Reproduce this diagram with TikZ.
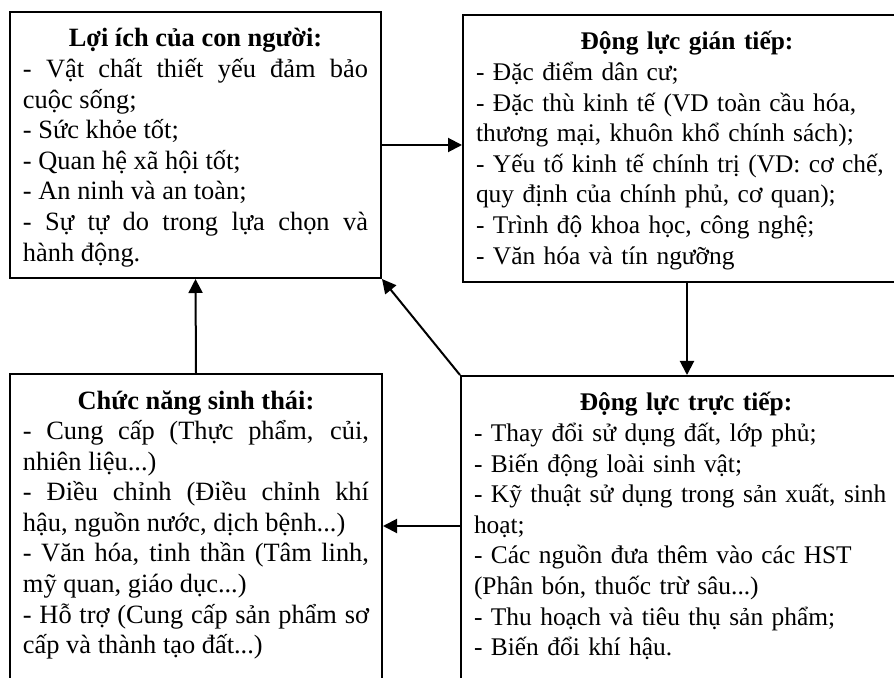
\documentclass[tikz,border=0pt]{standalone}
\usepackage{fontspec}
\setmainfont{Liberation Serif}
\usetikzlibrary{arrows.meta,positioning,calc}
\tikzset{
  every node/.style={font=\fontsize{12.7}{15.3}\selectfont},
  box/.style={draw=black, line width=1pt, anchor=north west, inner xsep=6.5pt, inner ysep=7.5pt, text height=10pt},
  leftbox/.style={box, text width=172.5pt, align=justify, font=\fontsize{13.2}{15.3}\selectfont,
    execute at begin node={\spaceskip=0.25em plus 0.4em\relax}},
  rightbox/.style={box, text width=211pt},
  arrow/.style={-{Triangle[length=7pt,width=7pt]}, line width=1pt, draw=black},
}

\begin{document}
\begin{tikzpicture}[x=0.5pt,y=-0.5pt]
\useasboundingbox (0,0) rectangle (894,678);
\fill[white] (0,0) rectangle (894,678);
\clip (0,0) rectangle (894,678);
\node[leftbox, text depth=108pt] (benefit) at (9,11) {{\centering\bfseries Lợi ích của con người:\par}
- Vật chất thiết yếu đảm bảo cuộc sống;\par
- Sức khỏe tốt;\par
- Quan hệ xã hội tốt;\par
- An ninh và an toàn;\par
- Sự tự do trong lựa chọn và hành động.};
\node[rightbox, text depth=108.5pt] (indirect) at (462,14) {{\centering\bfseries Động lực gián tiếp:\par}
\raggedright - Đặc điểm dân cư;\\
- Đặc thù kinh tế (VD toàn cầu hóa,\\
thương mại, khuôn khổ chính sách);\\
- Yếu tố kinh tế chính trị (VD: cơ chế,\\
quy định của chính phủ, cơ quan);\\
- Trình độ khoa học, công nghệ;\\
- Văn hóa và tín ngưỡng};
\node[leftbox, text width=173pt, text depth=140pt] (ecofunc) at (9,373) {{\centering\bfseries Chức năng sinh thái:\par}
- Cung cấp (Thực phẩm, củi, nhiên liệu...)\par
- Điều chỉnh (Điều chỉnh khí hậu, nguồn nước, dịch bệnh...)\par
- Văn hóa, tinh thần (Tâm linh, mỹ quan, giáo dục...)\par
- Hỗ trợ (Cung cấp sản phẩm sơ cấp và thành tạo đất...)};
\node[rightbox, text width=212pt, text depth=140pt] (direct) at (460,375) {{\centering\bfseries Động lực trực tiếp:\par}
\raggedright - Thay đổi sử dụng đất, lớp phủ;\\
- Biến động loài sinh vật;\\
- Kỹ thuật sử dụng trong sản xuất, sinh\\
hoạt;\\
- Các nguồn đưa thêm vào các HST\\
(Phân bón, thuốc trừ sâu...)\\
- Thu hoạch và tiêu thụ sản phẩm;\\
- Biến đổi khí hậu.};
\coordinate (mid) at (0,526);
\draw[arrow] (benefit.east) -- (benefit.east -| indirect.west);
\draw[arrow] (indirect.south) -- (indirect.south |- direct.north);
\draw[arrow] (direct.west |- mid) -- (ecofunc.east |- mid);
\draw[arrow] (ecofunc.north) -- (benefit.south);
\draw[arrow] (direct.north west) -- (benefit.south east);
\end{tikzpicture}
\end{document}
